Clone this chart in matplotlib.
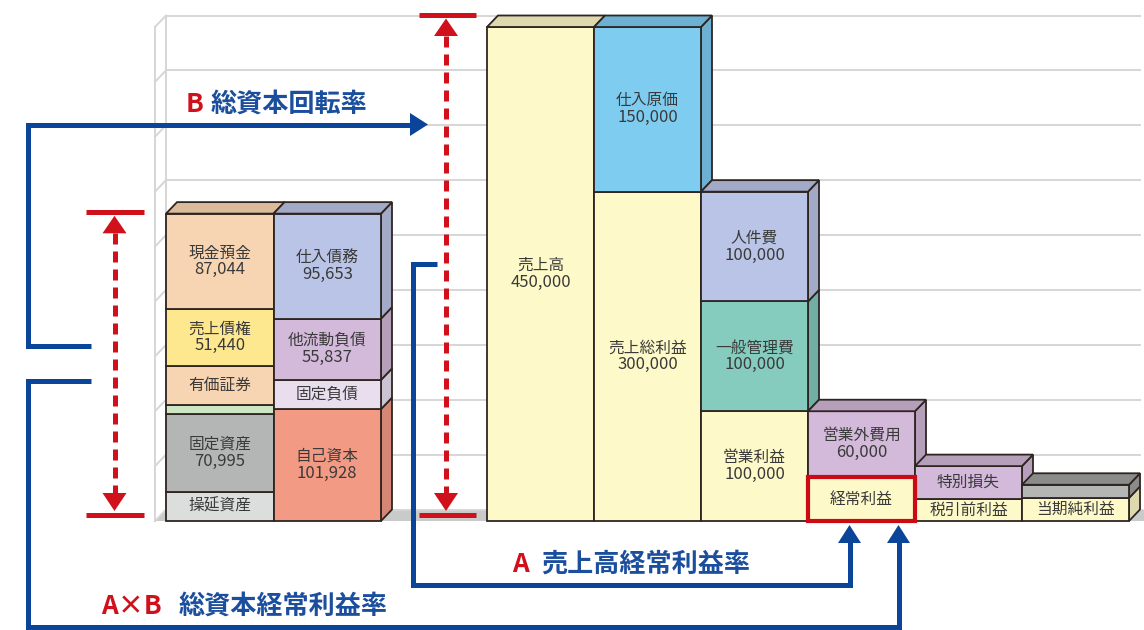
import matplotlib
matplotlib.use("Agg")
import matplotlib.pyplot as plt
from matplotlib.patches import Polygon, Rectangle

plt.rcParams['font.family'] = ['Noto Sans CJK JP', 'DejaVu Sans']

# ---------------- data ----------------
# balance sheet, listed bottom to top
asset_labels = ['操延資産', '固定資産', '', '有価証券', '売上債権', '現金預金']
asset_values = [26521, 70995, 8000, 36000, 51440, 87044]
asset_shown = [False, True, False, False, True, True]

liab_labels = ['自己資本', '固定負債', '他流動負債', '仕入債務']
liab_values = [101928, 26582, 55837, 95653]
liab_shown = [True, False, True, True]

# income statement columns, each listed bottom to top
pl_labels = [
    ['売上高'],
    ['売上総利益', '仕入原価'],
    ['営業利益', '一般管理費', '人件費'],
    ['経常利益', '営業外費用'],
    ['税引前利益', '特別損失'],
    ['当期純利益', ''],
]
pl_values = [
    [450000],
    [300000, 150000],
    [100000, 100000, 100000],
    [40000, 60000],
    [20000, 30000],
    [21000, 12000],
]
pl_shown = [
    [True],
    [True, True],
    [True, True, True],
    [False, True],
    [False, False],
    [False, False],
]

grid_values = list(range(0, 450001, 50000))

# ---------------- styles ----------------
W, H = 1144, 630
SCALE = 494 / 450000          # pixels per yen
BASE_PX = 521                 # baseline row in the image
Y_MIN = -(H - BASE_PX) / SCALE
Y_MAX = BASE_PX / SCALE
DX = 11                        # depth offset (px)
DY = 11.5 / SCALE              # depth offset (yen units)
PX = 1 / SCALE                 # one pixel in yen units

EDGE = '#2e2521'
LW = 1.3
TXT = '#3a3a3a'
RED = '#d0101b'
BLUE = '#0a4599'
BLUE_T = '#1b4f9e'
GRID = '#d6d6d6'

YEL, YEL_D = '#fef9c8', '#ddd8ae'
PEACH, PEACH_D = '#f8d5b2', '#dbbb9b'
SOFTYEL = '#fde88f'
GREEN = '#cde6c4'
GRAY, GRAY_D = '#b4b5b5', '#8b8b8b'
LGRAY = '#dcdddd'
LAV, LAV_D = '#b9c4e6', '#a2aac8'
PUR, PUR_D = '#d3b9da', '#b69fba'
LPUR, LPUR_D = '#e9deee', '#cbc5d3'
SALMON, SALMON_D = '#f29a84', '#d68674'
SKY, SKY_D = '#7ecdf1', '#6cb1d4'
TEAL, TEAL_D = '#85cbbe', '#72aea3'

asset_colors = [(LGRAY, '#c4c5c5'), (GRAY, GRAY_D), (GREEN, '#b3ccab'),
                (PEACH, PEACH_D), (SOFTYEL, '#dfcc7a'), (PEACH, PEACH_D)]
liab_colors = [(SALMON, SALMON_D), (LPUR, LPUR_D), (PUR, PUR_D), (LAV, LAV_D)]
pl_colors = [
    [(YEL, YEL_D)],
    [(YEL, YEL_D), (SKY, SKY_D)],
    [(YEL, YEL_D), (TEAL, TEAL_D), (LAV, LAV_D)],
    [(YEL, YEL_D), (PUR, PUR_D)],
    [(YEL, YEL_D), (PUR, PUR_D)],
    [(YEL, YEL_D), (GRAY, GRAY_D)],
]

BS_X = [166, 273.5]
BS_W = 107.5
PL_X0, PL_W = 487, 107

fig = plt.figure(figsize=(W / 100, H / 100), dpi=100)
fig.patch.set_facecolor('white')
ax = fig.add_axes([0, 0, 1, 1])
ax.set_xlim(0, W)
ax.set_ylim(Y_MIN, Y_MAX)
ax.axis('off')

# ---------------- wall and floor ----------------
ax.add_patch(Polygon([(155, 0), (166, DY), (W, DY), (W, 0)],
                     closed=True, fc='#c9caca', ec='none', zorder=0))
for v in grid_values:
    ax.plot([166, 1140], [v + DY, v + DY], color=GRID, lw=1.4, zorder=0.5)
    ax.plot([155, 166], [v, v + DY], color=GRID, lw=1.4, zorder=0.5)
ax.plot([155, 155], [0, grid_values[-1]], color=GRID, lw=1.4, zorder=0.5)
ax.plot([166, 166], [DY, grid_values[-1] + DY], color=GRID, lw=1.4, zorder=0.5)


def draw_column(x0, width, values, labels, shown, colors):
    x1 = x0 + width
    bottom = 0
    top = 0
    for v, lab, sh, (fc, sc) in zip(values, labels, shown, colors):
        top = bottom + v
        ax.add_patch(Polygon([(x1, bottom), (x1 + DX, bottom + DY),
                              (x1 + DX, top + DY), (x1, top)],
                             closed=True, fc=sc, ec=EDGE, lw=LW, zorder=2,
                             joinstyle='miter'))
        ax.add_patch(Rectangle((x0, bottom), width, v, fc=fc, ec=EDGE,
                               lw=LW, zorder=2, joinstyle='miter'))
        cx, cy = x0 + width / 2, bottom + v / 2
        if lab and sh:
            ax.text(cx, cy + 8.5 * PX, lab, ha='center', va='center',
                    fontsize=11.3, color=TXT, zorder=5)
            ax.text(cx, cy - 8.5 * PX, f'{v:,}', ha='center', va='center',
                    fontsize=12, color=TXT, zorder=5)
        elif lab:
            ax.text(cx, cy, lab, ha='center', va='center',
                    fontsize=11.3, color=TXT, zorder=5)
        bottom = top
    ax.add_patch(Polygon([(x0, top), (x0 + DX, top + DY),
                          (x1 + DX, top + DY), (x1, top)],
                         closed=True, fc=colors[-1][1], ec=EDGE, lw=LW,
                         zorder=2, joinstyle='miter'))


draw_column(BS_X[0], BS_W, asset_values, asset_labels, asset_shown, asset_colors)
draw_column(BS_X[1], BS_W, liab_values, liab_labels, liab_shown, liab_colors)
for i in range(len(pl_values)):
    draw_column(PL_X0 + i * PL_W, PL_W, pl_values[i], pl_labels[i],
                pl_shown[i], pl_colors[i])

# highlight ordinary profit
ax.add_patch(Rectangle((PL_X0 + 3 * PL_W, 0), PL_W, pl_values[3][0],
                       fc='none', ec='#cc0a14', lw=3.0, zorder=6,
                       joinstyle='miter'))

# ---------------- annotations (pixel space) ----------------
ov = fig.add_axes([0, 0, 1, 1])
ov.set_xlim(0, W)
ov.set_ylim(H, 0)
ov.axis('off')
ov.patch.set_alpha(0)

LINE = 3.6  # 5 px


def red_bracket(x, y_top, y_bot, xl, xr):
    for y in (y_top, y_bot):
        ov.plot([xl, xr], [y, y], color=RED, lw=LINE, solid_capstyle='butt')
    ov.add_patch(Polygon([(x, y_top + 3.5), (x - 12, y_top + 21), (x + 12, y_top + 21)],
                         closed=True, fc=RED, ec='none'))
    ov.add_patch(Polygon([(x, y_bot - 4), (x - 12, y_bot - 22), (x + 12, y_bot - 22)],
                         closed=True, fc=RED, ec='none'))
    ov.plot([x, x], [y_top + 21, y_bot - 22], color=RED, lw=LINE,
            linestyle=(0, (2.2, 1.4)), dash_capstyle='butt')


red_bracket(114.5, 212.3, 515, 86, 144)
red_bracket(446, 15, 515, 418.5, 476)


def blue_path(xs, ys):
    ov.plot(xs, ys, color=BLUE, lw=LINE, solid_joinstyle='miter',
            solid_capstyle='butt')


# B: total capital turnover
blue_path([91, 27.5, 27.5, 411], [345.5, 345.5, 124.5, 124.5])
ov.add_patch(Polygon([(428, 124.5), (410, 113), (410, 136)], closed=True,
                     fc=BLUE, ec='none'))
# A: ordinary profit to sales
blue_path([436.5, 413, 413, 849.5, 849.5], [264, 264, 585, 585, 542])
ov.add_patch(Polygon([(849.5, 525), (838, 543), (861, 543)], closed=True,
                     fc=BLUE, ec='none'))
# A x B: ordinary profit to total capital
blue_path([91, 27.5, 27.5, 898.5, 898.5], [380.5, 380.5, 626.5, 626.5, 542])
ov.add_patch(Polygon([(898.5, 525), (887, 543), (910, 543)], closed=True,
                     fc=BLUE, ec='none'))

lab_kw = dict(fontsize=18.8, fontweight='bold', va='center', ha='left')
ov.text(186, 104, 'B', color=RED, **lab_kw)
ov.text(211, 104, '総資本回転率', color=BLUE_T, **lab_kw)
ov.text(512, 564, 'A', color=RED, **lab_kw)
ov.text(541, 564, '売上高経常利益率', color=BLUE_T, **lab_kw)
ov.text(101, 606, 'A×B', color=RED, **lab_kw)
ov.text(179, 606, '総資本経常利益率', color=BLUE_T, **lab_kw)

fig.savefig('out.png', dpi=100, facecolor='white')
